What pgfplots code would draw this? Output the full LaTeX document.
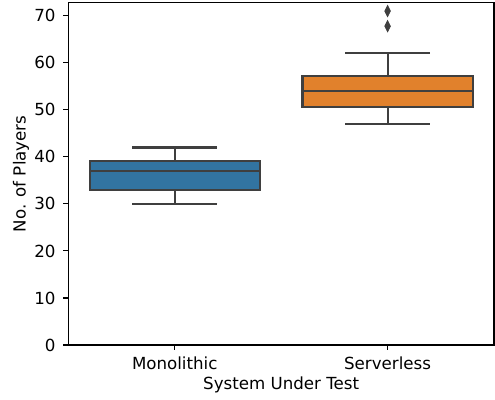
\documentclass[border=0pt,12pt]{standalone}
\usepackage{fontspec}
\setmainfont{DejaVu Sans}
\usepackage{pgfplots}
\pgfplotsset{compat=1.18}
\usepgfplotslibrary{statistics}
\definecolor{sbblue}{HTML}{3274A1}
\definecolor{sborange}{HTML}{E1812C}
\definecolor{lgray}{HTML}{3F3F3F}
\begin{document}
\begin{tikzpicture}
\begin{axis}[
  scale only axis,
  width=306.5pt, height=246.5pt,
  xmin=-0.5, xmax=1.5,
  ymin=0, ymax=72.8,
  xtick={0,1}, xticklabels={Monolithic,Serverless},
  ytick={0,10,20,30,40,50,60,70},
  axis line style={line width=0.8pt, black},
  tick style={line width=0.8pt, black},
  major tick length=3.5pt,
  tick align=outside,
  xtick pos=bottom, ytick pos=left,
  /pgf/number format/assume math mode=true,
  xlabel={System Under Test},
  ylabel={No. of Players},
  tick label style={font=\fontsize{12pt}{14pt}\selectfont},
  label style={font=\fontsize{12pt}{14pt}\selectfont},
  yticklabel style={xshift=-1.5pt},
  xticklabel style={yshift=-0.5pt},
  xlabel style={yshift=3pt},
  ylabel style={yshift=-4.5pt},
  boxplot/draw direction=y,
]
\addplot[boxplot prepared={draw position=0,
    lower whisker=30, lower quartile=33, median=37,
    upper quartile=39.1, upper whisker=42,
    box extend=0.8, whisker extend=0.4,
    every median/.style={draw=lgray, line width=1.5pt}},
  fill=sbblue, draw=lgray, line width=1.5pt]
  coordinates {};
\addplot[boxplot prepared={draw position=1,
    lower whisker=47, lower quartile=50.7, median=54,
    upper quartile=57.2, upper whisker=62,
    box extend=0.8, whisker extend=0.4,
    every median/.style={draw=lgray, line width=1.5pt}},
  fill=sborange, draw=lgray, line width=1.5pt]
  coordinates {};
\addplot[only marks, mark=diamond*, mark size=2.7pt,
  mark options={yscale=1.5, fill=lgray, draw=lgray, line width=0.5pt}]
  coordinates {(1,67.8) (1,71)};
\end{axis}
\pgfresetboundingbox
\path[use as bounding box] ([shift={(-49.2pt,-38.9pt)}]current axis.south west) rectangle ([shift={(0.7pt,1.9pt)}]current axis.north east);
\end{tikzpicture}
\end{document}
